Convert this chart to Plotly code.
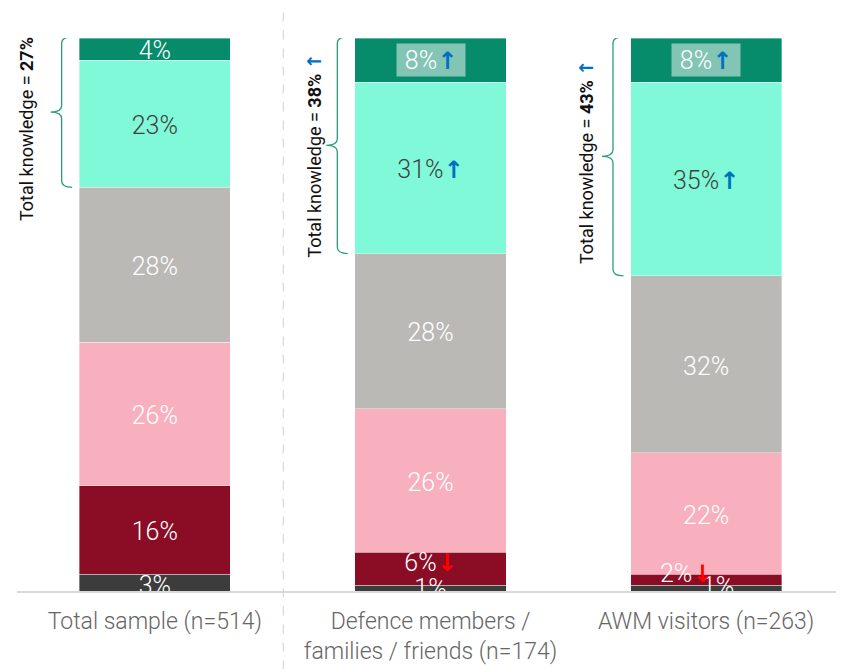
import plotly.graph_objects as go

# ---------------- data ----------------
categories = ["Total sample (n=514)",
              "Defence members /<br>families / friends (n=174)",
              "AWM visitors (n=263)"]
# stacked segments, bottom -> top
seg_names = ["Segment 6", "Segment 5", "Segment 4", "Segment 3", "Segment 2", "Segment 1"]
seg_dark_grey = [3, 1, 1]
seg_maroon = [16, 6, 2]
seg_pink = [26, 26, 22]
seg_grey = [28, 28, 32]
seg_mint = [23, 31, 35]
seg_green = [4, 8, 8]
# significance markers per segment ("up" / "down" / "")
sig_maroon = ["", "down", "down"]
sig_mint = ["", "up", "up"]
sig_green = ["", "up", "up"]
knowledge_totals = [27, 38, 43]
knowledge_sig = ["", "up", "up"]

# ---------------- style ----------------
FONT = "Roboto Light, Roboto"
colors = ["#3C3C3C", "#8B0C25", "#F8B0BF", "#BAB9B5", "#80F9D9", "#068B6B"]
label_colors = ["#FFFFFF", "#FFFFFF", "#FFFFFF", "#FFFFFF", "#404040", "#FFFFFF"]
ARW = "font-family:DejaVu Sans;font-weight:bold;"
UP = f"<span style='{ARW}color:#0070C0;font-size:24px'>↑</span>"
DOWN = f"<span style='{ARW}color:#FF0000;font-size:24px'>↓</span>"
UP_SMALL = f"<span style='{ARW}color:#0070C0;font-size:19px'>↑</span>"
PX_X = 827 / 3.0      # px per category unit
PX_Y = 553.0 / 100.0  # px per percent
BAR_W = 0.548
LABEL_DY = -4         # general downward nudge of labels (px)

series = [seg_dark_grey, seg_maroon, seg_pink, seg_grey, seg_mint, seg_green]
sigs = [[""] * 3, sig_maroon, [""] * 3, [""] * 3, sig_mint, sig_green]
# label nudges in px (segment index, category index) -> (dx, dy)
nudges = {(0, 0): (0, -1), (0, 1): (0, 1), (0, 2): (12, 3),
          (1, 1): (0, 8), (1, 2): (-20, 8)}

xs = list(range(len(categories)))
fig = go.Figure()

for si, (vals, name, col) in enumerate(zip(series, seg_names, colors)):
    fig.add_trace(go.Bar(
        x=xs, y=vals, name=name, width=BAR_W,
        marker=dict(color=col, line=dict(color="rgba(255,255,255,0.6)", width=0.6)),
        hoverinfo="skip", showlegend=False))

# labels
lab_x, lab_y, lab_t, lab_c = [], [], [], []
annotations = []
for ci in xs:
    base = 0
    for si, vals in enumerate(series):
        v = vals[ci]
        mid = base + v / 2.0
        base += v
        sig = sigs[si][ci]
        txt = f"{v}%" + (UP if sig == "up" else DOWN if sig == "down" else "")
        if si == 5 and sig:
            annotations.append(dict(
                x=ci, y=mid, xref="x", yref="y", text=txt, showarrow=False,
                bgcolor="rgba(255,255,255,0.5)", borderpad=3, width=62, height=26,
                font=dict(family=FONT, size=25, color="#FFFFFF", weight=300)))
            continue
        dx, dy = nudges.get((si, ci), (0, 0))
        lab_x.append(ci + dx / PX_X)
        lab_y.append(mid + (dy + LABEL_DY) / PX_Y)
        lab_t.append(txt)
        lab_c.append(label_colors[si])

fig.add_trace(go.Scatter(
    x=lab_x, y=lab_y, text=lab_t, mode="text", textposition="middle center",
    textfont=dict(family=FONT, size=25, color=lab_c, weight=300),
    cliponaxis=True, hoverinfo="skip", showlegend=False))

# brackets and rotated totals
shapes = []
text_pos = [(-0.466, 83.6), (-0.423, 78.7), (-0.435, 77.6)]
for ci in xs:
    ytop = 100.2
    ybot = 100 - seg_green[ci] - seg_mint[ci]
    ymid = (ytop + ybot) / 2.0
    xe = ci - 0.30
    xv = ci - 0.338
    xt = ci - 0.378
    r = 1.2
    path = (f"M {xe},{ytop} Q {xv},{ytop} {xv},{ytop - r} L {xv},{ymid + r} "
            f"Q {xv},{ymid} {xt},{ymid} Q {xv},{ymid} {xv},{ymid - r} "
            f"L {xv},{ybot + r} Q {xv},{ybot} {xe},{ybot}")
    shapes.append(dict(type="path", path=path, xref="x", yref="y",
                       line=dict(color="#2A9D7F", width=1.3)))
    tx, ty = text_pos[ci]
    arrow = " " + UP_SMALL if knowledge_sig[ci] == "up" else ""
    annotations.append(dict(
        x=ci + tx, y=ty, xref="x", yref="y", textangle=-90, showarrow=False,
        text=f"Total knowledge = <b>{knowledge_totals[ci]}%</b>{arrow}",
        font=dict(family="Roboto", size=18, color="#111111")))

# dashed divider
shapes.append(dict(type="line", xref="x", yref="paper", x0=0.466, x1=0.466,
                   y0=-0.142, y1=1.062, line=dict(color="#D0D0D0", width=1, dash="dash")))

fig.update_layout(
    width=836, height=661,
    margin=dict(l=9, r=0, t=30, b=78),
    barmode="stack",
    plot_bgcolor="white", paper_bgcolor="white",
    shapes=shapes, annotations=annotations,
    xaxis=dict(range=[-0.5, 2.5], tickvals=xs, ticktext=categories,
               showline=True, linecolor="#D9D9D9", linewidth=2,
               showgrid=False, zeroline=False, ticks="", ticklabelstandoff=8,
               tickfont=dict(family=FONT, size=23, color="#666666", weight=300)),
    yaxis=dict(range=[0, 100], visible=False, showgrid=False, zeroline=False),
)

fig.write_html("out.html")
